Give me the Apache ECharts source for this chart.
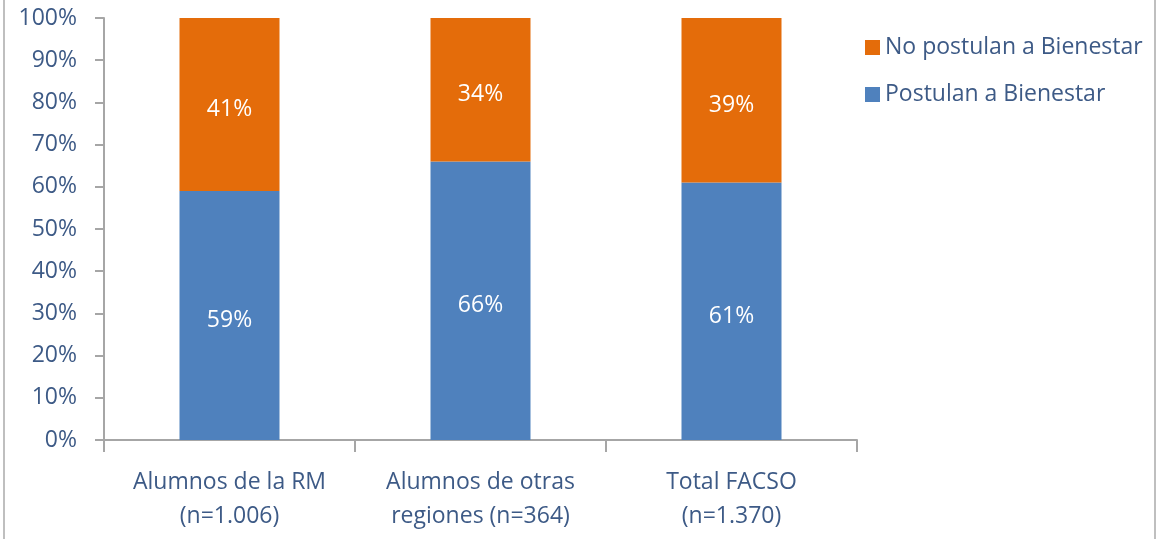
<!DOCTYPE html>
<html>
<head>
<meta charset="utf-8">
<script src="https://cdn.jsdelivr.net/npm/echarts@6/dist/echarts.min.js"></script>
<style>
  html, body { margin: 0; padding: 0; background: #fff; }
  #chart { width: 1158px; height: 539px; }
</style>
</head>
<body>
<div id="chart"></div>
<script>
// categorias del eje x
var categories = ['Alumnos de la RM\n(n=1.006)', 'Alumnos de otras\nregiones (n=364)', 'Total FACSO\n(n=1.370)'];
// porcentajes por serie
var postulan = [59, 66, 61];
var noPostulan = [41, 34, 39];
var seriesNames = ['Postulan a Bienestar', 'No postulan a Bienestar'];

var textColor = '#3D5A86';
var axisGray = '#A6A6A6';
var font = '"Open Sans", "Noto Sans", sans-serif';

var chart = echarts.init(document.getElementById('chart'));

var labelStyle = {
  show: true,
  position: 'inside',
  offset: [0, 5],
  color: '#fff',
  fontSize: 23,
  fontFamily: font,
  formatter: '{c}%'
};

chart.setOption({
  animation: false,
  textStyle: { fontFamily: font },
  grid: { left: 104, right: 301, top: 18, bottom: 99 },
  legend: {
    orient: 'vertical',
    left: 860,
    top: 31,
    itemWidth: 15,
    itemHeight: 15,
    itemGap: 24,
    icon: 'rect',
    data: [seriesNames[1], seriesNames[0]],
    textStyle: { color: textColor, fontSize: 23, fontFamily: font }
  },
  xAxis: {
    type: 'category',
    data: categories,
    axisLine: { lineStyle: { color: axisGray, width: 2 } },
    axisTick: { show: true, length: 12, lineStyle: { color: axisGray, width: 2 } },
    axisLabel: { color: textColor, fontSize: 23, lineHeight: 34, margin: 25, fontFamily: font }
  },
  yAxis: {
    type: 'value',
    min: 0,
    max: 100,
    interval: 10,
    axisLine: { show: true, lineStyle: { color: axisGray, width: 2 } },
    axisTick: { show: true, length: 9, lineStyle: { color: axisGray, width: 2 } },
    splitLine: { show: false },
    axisLabel: { color: textColor, fontSize: 23, margin: 27, fontFamily: font, formatter: '{value}%' }
  },
  series: [
    {
      name: seriesNames[0],
      type: 'bar',
      stack: 'total',
      barWidth: 100,
      data: postulan,
      itemStyle: { color: '#4F81BD' },
      label: labelStyle
    },
    {
      name: seriesNames[1],
      type: 'bar',
      stack: 'total',
      barWidth: 100,
      data: noPostulan,
      itemStyle: { color: '#E46C0A' },
      label: labelStyle
    }
  ],
  graphic: [
    { type: 'line', shape: { x1: 4, y1: 0, x2: 4, y2: 539 }, style: { stroke: '#BFBFBF', lineWidth: 2 } },
    { type: 'line', shape: { x1: 1155, y1: 0, x2: 1155, y2: 539 }, style: { stroke: '#BFBFBF', lineWidth: 2 } }
  ]
});
</script>
</body>
</html>
